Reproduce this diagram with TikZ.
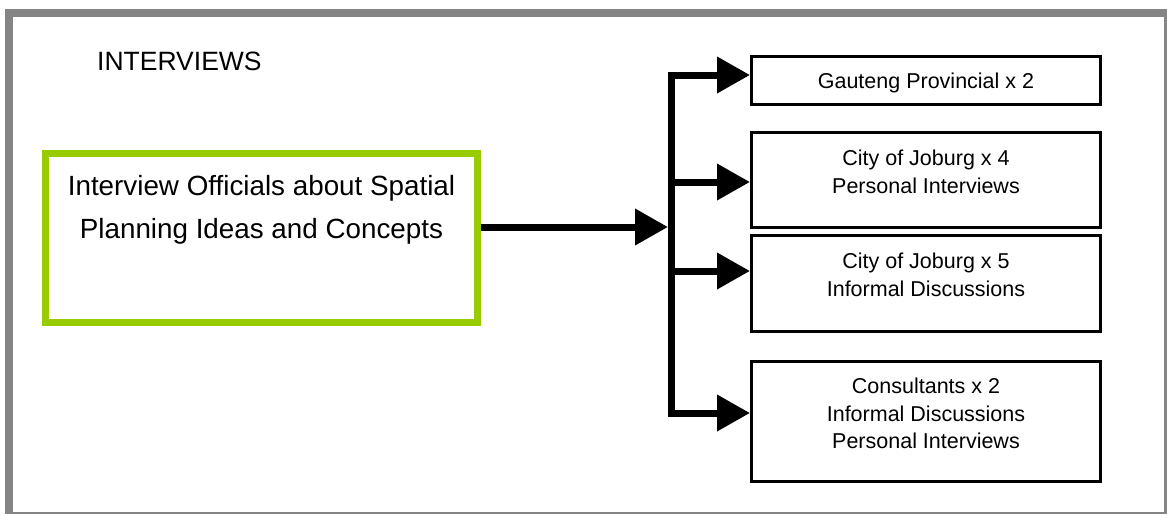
\documentclass[tikz,border=0pt]{standalone}
\usepackage{fontspec}
\setmainfont{Liberation Sans}
\usetikzlibrary{positioning, arrows.meta}

\definecolor{framegray}{HTML}{858585}
\definecolor{leafgreen}{HTML}{99CC00}

\tikzset{
    rbox/.style = {draw, line width = 3pt, minimum width = 349pt, inner sep = 0pt},
    rtext/.style = {align = center, inner sep = 0pt, font = \fontsize{21.5pt}{27.5pt}\selectfont},
    arr/.style = {line width = 7pt, -{Triangle[length = 33pt, width = 35pt]}},
}

\begin{document}
\begin{tikzpicture}[x = 1pt, y = -1pt]
    \useasboundingbox (0, 0) rectangle (1167, 514);
    % frame
    \fill [framegray] (5, 9) rectangle (1167, 514);
    \fill [white] (13, 17) rectangle (1164, 512);
    \node [anchor = north west, inner sep = 0pt, font = \fontsize{26.5pt}{30pt}\selectfont] (title) at (97, 52) {INTERVIEWS};

    % main box
    \node [draw = leafgreen, line width = 7pt, minimum width = 432pt, minimum height = 169pt] (ob) at (261.5, 238) {};
    \node [below = 25pt of ob.north, align = center, inner sep = 0pt, font = \fontsize{27.8pt}{43pt}\selectfont] (obtext) {Interview Officials about Spatial\\Planning Ideas and Concepts};

    % right boxes
    \node [rbox, minimum height = 48pt] (gp) at (926, 80.5) {};
    \node [rtext, below = 18pt of gp.north] (gptext) {Gauteng Provincial x 2};
    \node [rbox, minimum height = 95pt] (cj4) at (926, 180) {};
    \node [rtext, below = 19pt of cj4.north] (cj4text) {City of Joburg x 4\\Personal Interviews};
    \node [rbox, minimum height = 96pt] (cj5) at (926, 283.5) {};
    \node [rtext, below = 19pt of cj5.north] (cj5text) {City of Joburg x 5\\Informal Discussions};
    \node [rbox, minimum height = 120pt] (cons) at (926, 421.5) {};
    \node [rtext, below = 18pt of cons.north] (constext) {Consultants x 2\\Informal Discussions\\Personal Interviews};

    % connectors
    \coordinate (hub) at (668, 227);
    \coordinate (j1) at (671.5, 75);
    \coordinate (j2) at (671.5, 182);
    \coordinate (j3) at (671.5, 271);
    \coordinate (j4) at (671.5, 413);
    \draw [line width = 7pt, line cap = rect] (j1) -- (j4);
    \draw [arr] (hub -| ob.east) -- (hub);
    \draw [arr] (j1) -- (j1 -| gp.west);
    \draw [arr] (j2) -- (j2 -| cj4.west);
    \draw [arr] (j3) -- (j3 -| cj5.west);
    \draw [arr] (j4) -- (j4 -| cons.west);
\end{tikzpicture}
\end{document}
